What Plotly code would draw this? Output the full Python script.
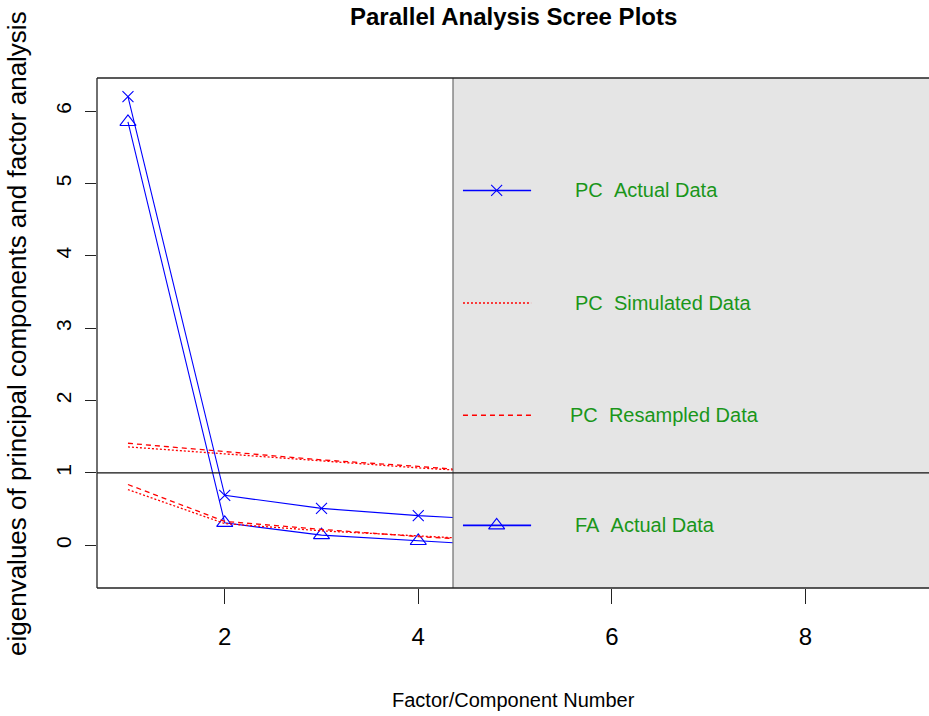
import plotly.graph_objects as go

# ---------------- data ----------------
components = [1, 2, 3, 4, 5, 6, 7, 8, 9]
pc_actual = [6.20, 0.69, 0.51, 0.41, 0.34, 0.28, 0.23, 0.19, 0.15]
fa_actual = [5.85, 0.31, 0.14, 0.06, -0.04, -0.12, -0.18, -0.25, -0.32]
pc_simulated = [1.36, 1.26, 1.16, 1.07, 0.99, 0.91, 0.83, 0.75, 0.65]
pc_resampled = [1.41, 1.29, 1.18, 1.09, 1.00, 0.91, 0.82, 0.73, 0.57]
fa_simulated = [0.77, 0.30, 0.20, 0.11, 0.04, -0.03, -0.09, -0.15, -0.22]
fa_resampled = [0.84, 0.33, 0.22, 0.12, 0.05, -0.02, -0.08, -0.14, -0.21]
x_ticks = [2, 4, 6, 8]
y_ticks = [0, 1, 2, 3, 4, 5, 6]
legend_labels = ["PC\u00a0\u00a0Actual Data", "PC\u00a0\u00a0Simulated Data",
                 "PC\u00a0\u00a0Resampled Data", "FA\u00a0\u00a0Actual Data"]
title_text = "Parallel Analysis Scree Plots"
x_title = "Factor/Component Number"
y_title = "eigenvalues of principal components and factor analysis"

# ---------------- layout constants ----------------
W, H = 929, 716
ML, MR, MT, MB = 97, 0, 78, 128
PH = H - MT - MB
X_MIN, X_SPLIT, X_MAX = 0.68, 4.355, 9.278
Y_MIN, Y_MAX = -0.59, 6.457
split = (X_SPLIT - X_MIN) / (X_MAX - X_MIN)

FONT = "Liberation Sans, Arial, sans-serif"
BLUE = "#0000ff"
RED = "#ff0000"
GREEN = "#1a961a"
DASH = "5px,4px"
DOT = "2px,2px"

# legend sample placement (x2 data units / y data units)
LEG_X0, LEG_X1, LEG_XM = 4.462, 5.166, 4.810
LEG_TX = [5.600, 5.600, 5.548, 5.600]
LEG_Y = [4.903, 3.347, 1.796, 0.276]

fig = go.Figure()

def series(y, dash, marker=None):
    kw = dict(x=components, y=y, xaxis="x", yaxis="y", showlegend=False,
              hoverinfo="skip", line=dict(color=BLUE if marker else RED, width=1.1, dash=dash))
    if marker:
        kw["mode"] = "lines+markers"
        kw["marker"] = marker
    else:
        kw["mode"] = "lines"
        kw["line"]["width"] = 1.3
    fig.add_trace(go.Scatter(**kw))

X_MARK = dict(symbol="x-thin-open", size=11, color=BLUE, line=dict(color=BLUE, width=1.1))
T_MARK = dict(symbol="triangle-up-open", size=14, color=BLUE, line=dict(color=BLUE, width=1.1))

series(pc_actual, "solid", X_MARK)
series(fa_actual, "solid", T_MARK)
series(pc_simulated, DOT)
series(fa_simulated, DOT)
series(pc_resampled, DASH)
series(fa_resampled, DASH)

# legend samples on the right subplot
styles = [("solid", BLUE, X_MARK), (DOT, RED, None), (DASH, RED, None), ("solid", BLUE, T_MARK)]
for (dash, col, mk), ly in zip(styles, LEG_Y):
    fig.add_trace(go.Scatter(x=[LEG_X0, LEG_X1], y=[ly, ly], xaxis="x2", yaxis="y", mode="lines",
                             line=dict(color=col, width=1.6, dash=dash), showlegend=False, hoverinfo="skip"))
    if mk:
        fig.add_trace(go.Scatter(x=[LEG_XM], y=[ly], xaxis="x2", yaxis="y", mode="markers",
                                 marker=mk, showlegend=False, hoverinfo="skip"))

annotations = []
for lab, tx, ly in zip(legend_labels, LEG_TX, LEG_Y):
    annotations.append(dict(text=lab, x=tx, y=ly, xref="x2", yref="y", xanchor="left",
                            yanchor="middle", showarrow=False,
                            font=dict(family=FONT, size=20, color=GREEN)))
annotations.append(dict(text=x_title, x=0.5, y=-(700 - (H - MB)) / PH, xref="paper", yref="paper",
                        xanchor="center", yanchor="middle", showarrow=False,
                        font=dict(family=FONT, size=20, color="black")))
annotations.append(dict(text=y_title, x=-0.0962, y=0.5, xref="paper", yref="paper",
                        xanchor="center", yanchor="middle", showarrow=False, textangle=-90,
                        font=dict(family=FONT, size=26, color="black")))
annotations.append(dict(text="<b>" + title_text + "</b>", x=0.5, y=1 + (MT - 17) / PH, xref="paper",
                        yref="paper", xanchor="center", yanchor="middle", showarrow=False,
                        font=dict(family=FONT, size=24, color="black")))

shapes = [
    dict(type="rect", xref="x2", yref="paper", x0=X_SPLIT, x1=X_MAX + 1, y0=0, y1=1,
         fillcolor="#e5e5e5", line=dict(width=0), layer="below"),
    dict(type="line", xref="paper", yref="y", x0=0, x1=1, y0=1, y1=1,
         line=dict(color="#111", width=1.3), layer="above"),
    dict(type="line", xref="x2", yref="paper", x0=X_SPLIT, x1=X_SPLIT, y0=0, y1=1,
         line=dict(color="#222", width=1.5), layer="above"),
    dict(type="line", xref="paper", yref="paper", x0=0, x1=0, y0=0, y1=1,
         line=dict(color="#222", width=1.3), layer="above"),
    dict(type="line", xref="paper", yref="paper", x0=0, x1=1, y0=0, y1=0,
         line=dict(color="#222", width=1.3), layer="above"),
    dict(type="line", xref="paper", yref="paper", x0=0, x1=1, y0=1, y1=1,
         line=dict(color="#222", width=1.3), layer="above"),
]

xcommon = dict(showgrid=False, zeroline=False, showline=False, ticks="outside", ticklen=15,
               tickwidth=1.2, tickcolor="#222", ticklabelstandoff=12,
               tickfont=dict(family=FONT, size=24, color="black"), fixedrange=True)

fig.update_layout(
    width=W, height=H,
    margin=dict(l=ML, r=MR, t=MT, b=MB, pad=0),
    paper_bgcolor="white", plot_bgcolor="white",
    showlegend=False, hovermode=False,
    xaxis=dict(domain=[0, split], range=[X_MIN, X_SPLIT], tickvals=[t for t in x_ticks if t < X_SPLIT],
               anchor="y", **xcommon),
    xaxis2=dict(domain=[split, 1], range=[X_SPLIT, X_MAX], tickvals=[t for t in x_ticks if t > X_SPLIT],
                anchor="y", **xcommon),
    yaxis=dict(range=[Y_MIN, Y_MAX], tickvals=y_ticks, showgrid=False, zeroline=False, showline=False,
               ticks="outside", ticklen=11, tickwidth=1.2, tickcolor="#222", tickangle=-90,
               ticklabelstandoff=6, tickfont=dict(family=FONT, size=21, color="black"), fixedrange=True),
    annotations=annotations,
    shapes=shapes,
)

fig.write_html("out.html", config={"displayModeBar": False},
               post_script="document.body.style.margin='0';document.body.style.overflow='hidden';")
